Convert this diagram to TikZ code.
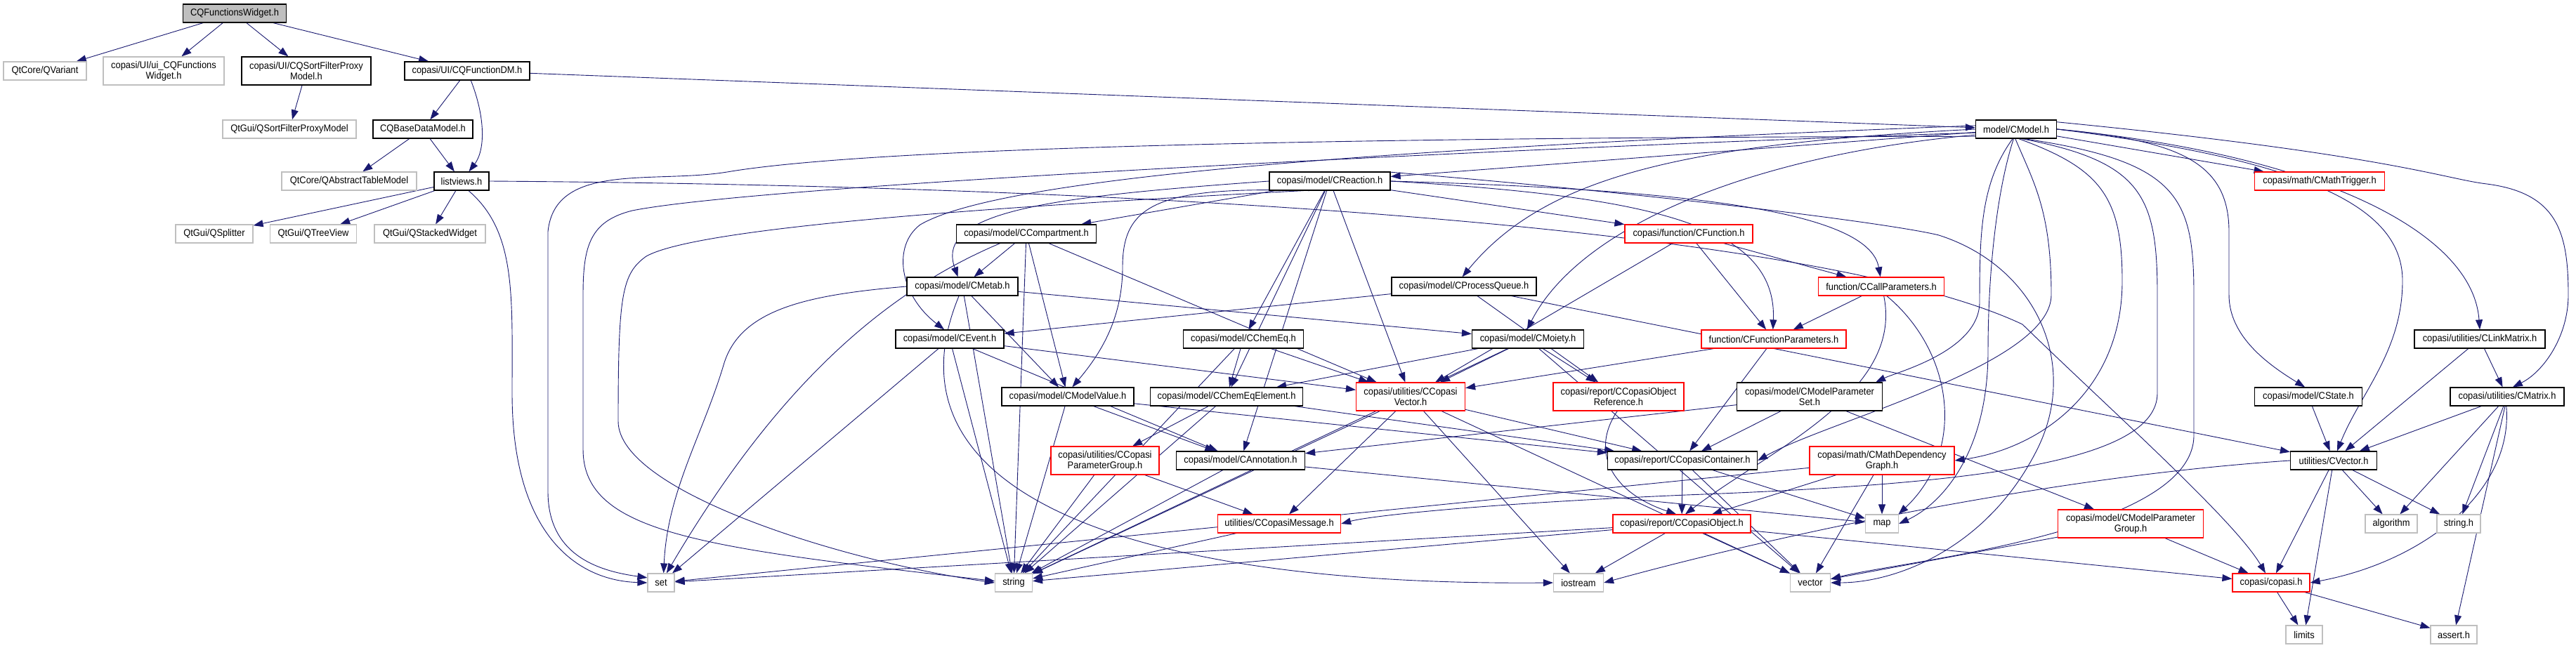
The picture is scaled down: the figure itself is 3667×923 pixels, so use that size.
\documentclass[tikz,border=0pt]{standalone}
\usepackage{fontspec}
\setmainfont{Liberation Sans}[FakeStretch=0.92]
\usetikzlibrary{arrows.meta,backgrounds}
\definecolor{edgeblue}{RGB}{25,25,112}
\definecolor{sysgray}{RGB}{191,191,191}
\newcommand{\hdrfont}{\fontsize{14}{15}\selectfont}
\tikzset{
  filebox/.style={draw=black, fill=white, line width=1.2pt, inner sep=1pt, minimum height=26pt, font=\hdrfont, align=center},
  sysbox/.style={filebox, draw=sysgray},
  cutbox/.style={filebox, draw=red},
  twoline/.style={minimum height=40pt},
  incl/.style={draw=edgeblue, line width=0.9pt, -{Triangle[length=14pt,width=10pt]}}
}
\begin{document}
\begin{tikzpicture}[x=1pt,y=-1pt]
  \useasboundingbox (0,0) rectangle (3667,923);

  % Datei oben
  \node[filebox, fill=sysgray, minimum width=147pt] (root) at (334,19) {CQFunctionsWidget.h};

  % direkte Includes
  \node[sysbox, minimum width=118pt] (qvar) at (64,101) {QtCore/QVariant};
  \node[sysbox, twoline, minimum width=172pt] (uiw) at (233,101) {copasi/UI/ui\_CQFunctions\\Widget.h};
  \node[filebox, twoline, minimum width=184pt] (sfpm) at (436,101) {copasi/UI/CQSortFilterProxy\\Model.h};
  \node[filebox, minimum width=178pt] (fdm) at (665,101) {copasi/UI/CQFunctionDM.h};
  \node[sysbox, minimum width=190pt] (qsfpm) at (412,184) {QtGui/QSortFilterProxyModel};
  \node[filebox, minimum width=142pt] (bdm) at (602,184) {CQBaseDataModel.h};
  \node[filebox, minimum width=115pt] (cmodel) at (2870,184) {model/CModel.h};
  \node[sysbox, minimum width=192pt] (qatm) at (497,258) {QtCore/QAbstractTableModel};
  \node[filebox, minimum width=78pt] (lv) at (657,258) {listviews.h};
  \node[filebox, minimum width=172pt] (creact) at (1893,258) {copasi/model/CReaction.h};
  \node[cutbox, minimum width=185pt] (ctrig) at (3302,258) {copasi/math/CMathTrigger.h};
  \node[sysbox, minimum width=110pt] (qspl) at (305,333) {QtGui/QSplitter};
  \node[sysbox, minimum width=123pt] (qtree) at (446,333) {QtGui/QTreeView};
  \node[sysbox, minimum width=158pt] (qstack) at (612,333) {QtGui/QStackedWidget};
  \node[filebox, minimum width=199pt] (ccomp) at (1461,333) {copasi/model/CCompartment.h};
  \node[cutbox, minimum width=182pt] (cfunc) at (2404,333) {copasi/function/CFunction.h};

  % Modell-Ebene
  \node[filebox, minimum width=158pt] (cmetab) at (1370,408) {copasi/model/CMetab.h};
  \node[filebox, minimum width=206pt] (cpq) at (2084,408) {copasi/model/CProcessQueue.h};
  \node[cutbox, minimum width=179pt] (ccall) at (2678,408) {function/CCallParameters.h};
  \node[filebox, minimum width=154pt] (cevent) at (1352,483) {copasi/model/CEvent.h};
  \node[filebox, minimum width=171pt] (cchem) at (1770,483) {copasi/model/CChemEq.h};
  \node[filebox, minimum width=159pt] (cmoi) at (2175,483) {copasi/model/CMoiety.h};
  \node[cutbox, minimum width=206pt] (cfpar) at (2525,483) {function/CFunctionParameters.h};
  \node[filebox, minimum width=186pt] (clink) at (3530,483) {copasi/utilities/CLinkMatrix.h};
  \node[filebox, minimum width=188pt] (cmval) at (1520,565) {copasi/model/CModelValue.h};
  \node[filebox, minimum width=217pt] (cceel) at (1746,565) {copasi/model/CChemEqElement.h};
  \node[cutbox, twoline, minimum width=155pt] (ccvec) at (2008,565) {copasi/utilities/CCopasi\\Vector.h};
  \node[cutbox, twoline, minimum width=186pt] (cobjref) at (2304,565) {copasi/report/CCopasiObject\\Reference.h};
  \node[filebox, twoline, minimum width=207pt] (cmpset) at (2576,565) {copasi/model/CModelParameter\\Set.h};
  \node[filebox, minimum width=153pt] (cstate) at (3286,565) {copasi/model/CState.h};
  \node[filebox, minimum width=162pt] (cmatrix) at (3569,565) {copasi/utilities/CMatrix.h};
  \node[cutbox, twoline, minimum width=154pt] (cpgrp) at (1573,656) {copasi/utilities/CCopasi\\ParameterGroup.h};
  \node[filebox, minimum width=183pt] (cannot) at (1766,656) {copasi/model/CAnnotation.h};
  \node[filebox, minimum width=213pt] (ccont) at (2395,656) {copasi/report/CCopasiContainer.h};
  \node[cutbox, twoline, minimum width=206pt] (cmdg) at (2679,656) {copasi/math/CMathDependency\\Graph.h};
  \node[filebox, minimum width=123pt] (cvector) at (3322,656) {utilities/CVector.h};
  \node[cutbox, minimum width=175pt] (cmsg) at (1821,746) {utilities/CCopasiMessage.h};
  \node[cutbox, minimum width=196pt] (cobj) at (2394,746) {copasi/report/CCopasiObject.h};
  \node[sysbox, minimum width=47pt] (map) at (2679,746) {map};
  \node[cutbox, twoline, minimum width=207pt] (cmpgrp) at (3033,746) {copasi/model/CModelParameter\\Group.h};
  \node[sysbox, minimum width=74pt] (algo) at (3404,746) {algorithm};
  \node[sysbox, minimum width=62pt] (strh) at (3500,746) {string.h};

  % Systemheader unten
  \node[sysbox, minimum width=38pt] (set) at (941,830) {set};
  \node[sysbox, minimum width=53pt] (string) at (1443,830) {string};
  \node[sysbox, minimum width=71pt] (iostream) at (2247,830) {iostream};
  \node[sysbox, minimum width=57pt] (vector) at (2577,830) {vector};
  \node[cutbox, minimum width=110pt] (copasih) at (3233,830) {copasi/copasi.h};
  \node[sysbox, minimum width=52pt] (limits) at (3280,904) {limits};
  \node[sysbox, minimum width=66pt] (asserth) at (3493,904) {assert.h};

  \begin{scope}[on background layer]
  % gerade Kanten
  \foreach \from/\to in {root/qvar, root/uiw, root/sfpm, root/fdm, sfpm/qsfpm, fdm/bdm,
      bdm/qatm, bdm/lv, lv/qspl, lv/qtree, lv/qstack, fdm/cmodel, cmodel/creact, cmodel/ctrig,
      creact/ccomp, creact/cfunc, creact/cchem, creact/cceel, creact/ccvec, creact/cannot,
      ccomp/cmetab, ccomp/cmval, ccomp/ccvec, ccomp/string,
      cfunc/cfpar, cfunc/ccall, cfunc/ccvec, ccall/cfpar, cfpar/ccvec, cfpar/ccont,
      cmetab/cmval, cmetab/cmoi, cmetab/string,
      cpq/cevent, cpq/cobjref, cpq/cvector,
      cchem/cceel, cchem/ccvec, cchem/string,
      cmoi/ccvec, cmoi/cceel, cmoi/cobjref, cmoi/string, cmoi/vector,
      cevent/cannot, cevent/ccvec, cevent/set, cevent/string,
      cmval/cannot, cmval/ccont, cmval/string,
      cceel/ccont, cceel/cpgrp, cceel/string,
      ccvec/cmsg, ccvec/ccont, ccvec/iostream, ccvec/string, ccvec/vector,
      cmpset/ccont, cmpset/cannot, cmpset/cmpgrp,
      cstate/cvector, clink/cvector, clink/cmatrix,
      cmatrix/cvector, cmatrix/algo, cmatrix/strh, cmatrix/asserth,
      cpgrp/cmsg, cpgrp/string, cannot/string, cannot/map,
      ccont/cobj, ccont/map, ccont/vector,
      cmdg/cobj, cmdg/map, cmdg/vector, cmdg/set,
      cvector/algo, cvector/strh, cvector/copasih, cvector/limits,
      cmsg/string, cobj/iostream, cobj/vector, cobj/string, cobj/set, cobj/copasih,
      cmpgrp/copasih, cmpgrp/vector, copasih/limits, copasih/asserth}
    \draw[incl] (\from) -- (\to);

  % gebogene Kanten
  \draw[incl] (fdm) .. controls (692,170) and (690,215) .. (lv);
  \draw[incl] ([xshift=10pt]lv.south) .. controls (735,330) and (729,420) .. (729,560)
      .. controls (729,760) and (820,827) .. (set.west);
  \draw[incl] (lv.east) .. controls (1700,265) and (2600,330) .. (2879,462)
      .. controls (3000,580) and (3180,740) .. (copasih);
  \draw[incl] (cmodel.190) .. controls (2300,195) and (1300,200) .. (1035,245)
      .. controls (930,262) and (790,230) .. (780,330) -- (780,700)
      .. controls (780,790) and (850,813) .. (set.160);
  \draw[incl] (cmodel.185) .. controls (2300,205) and (1100,260) .. (900,300)
      .. controls (840,315) and (830,350) .. (830,420) -- (830,640)
      .. controls (830,760) and (1000,780) .. (string.175);
  \draw[incl] (creact.200) .. controls (1500,290) and (1000,320) .. (920,365)
      .. controls (885,390) and (880,420) .. (880,600)
      .. controls (880,700) and (1200,800) .. (string.west);
  \draw[incl] (cmetab.west) .. controls (1150,420) and (1053,440) .. (1030,520)
      .. controls (1000,620) and (950,700) .. (set.75);
  \draw[incl] (ccomp.200) .. controls (1250,420) and (1100,560) .. (set.60);
  \draw[incl] (creact.west) .. controls (1500,280) and (1330,300) .. (cmetab.115);
  \draw[incl] (creact.205) .. controls (1650,265) and (1598,290) .. (1598,380)
      .. controls (1598,450) and (1570,500) .. (cmval.65);
  \draw[incl] (cmodel.175) .. controls (2000,210) and (1430,250) .. (1310,320)
      .. controls (1270,350) and (1280,420) .. (cevent.120);
  \draw[incl] (creact.east) .. controls (2350,280) and (2530,320) .. (cfpar.95);
  \draw[incl] (creact.east) .. controls (2400,270) and (2660,300) .. (ccall.95);
  \draw[incl] (creact.10) .. controls (2400,280) and (2700,320) .. (2760,335)
      .. controls (2900,380) and (2960,520) .. (2900,640)
      .. controls (2830,780) and (2700,830) .. (vector.east);
  \draw[incl] (cmodel.west) .. controls (2400,205) and (2200,250) .. (cpq.100);
  \draw[incl] (cmodel.188) .. controls (2500,220) and (2250,320) .. (cmoi.95);
  \draw[incl] (cmodel.250) .. controls (2820,260) and (2818,330) .. (2818,430)
      .. controls (2818,500) and (2700,530) .. ([xshift=-10pt]cmpset.north east);
  \draw[incl] (cmodel.265) .. controls (2895,260) and (2920,300) .. (2920,420)
      .. controls (2920,520) and (2600,600) .. (ccont.east);
  \draw[incl] (cmodel.285) .. controls (2990,240) and (3021,280) .. (3021,400)
      .. controls (3021,560) and (2900,640) .. (cmdg.east);
  \draw[incl] (cmodel.300) .. controls (3050,230) and (3071,280) .. (3071,420) -- (3071,560)
      .. controls (3071,660) and (2800,690) .. (2400,705)
      .. controls (2100,718) and (1950,735) .. (cmsg.east);
  \draw[incl] (cmodel.310) .. controls (3100,230) and (3123,280) .. (3123,420) -- (3123,620)
      .. controls (3123,760) and (2700,800) .. (vector.10);
  \draw[incl] (cmodel.255) .. controls (2840,280) and (2830,400) .. (2830,500)
      .. controls (2830,650) and (2760,720) .. (map.east);
  \draw[incl] (cmodel.east) .. controls (3100,200) and (3173,230) .. (3173,330) -- (3173,420)
      .. controls (3173,480) and (3230,520) .. (cstate.110);
  \draw[incl] (cmodel.east) .. controls (3300,230) and (3420,300) .. (3420,400)
      .. controls (3420,500) and (3360,560) .. (cvector.70);
  \draw[incl] (cmodel.east) .. controls (3300,220) and (3520,330) .. (clink.north);
  \draw[incl] (cmodel.10) .. controls (3400,220) and (3480,255) .. (3540,262)
      .. controls (3640,275) and (3656,330) .. (3656,420)
      .. controls (3656,480) and (3620,530) .. (cmatrix.60);
  \draw[incl] (cobjref.265) .. controls (2265,640) and (2290,700) .. (cobj.120);
  \draw[incl] (ccall.285) .. controls (2710,560) and (2520,640) .. (cobj.70);
  \draw[incl] (ccall.300) .. controls (2780,500) and (2800,640) .. (map.30);
  \draw[incl] (cmatrix.265) .. controls (3578,700) and (3450,800) .. (copasih.east);
  \draw[incl] (cmetab.250) .. controls (1250,700) and (1600,835) .. (iostream.west);
  \draw[incl] (cvector.west) .. controls (2900,680) and (2500,770) .. (iostream.east);
  \end{scope}
\end{tikzpicture}
\end{document}
